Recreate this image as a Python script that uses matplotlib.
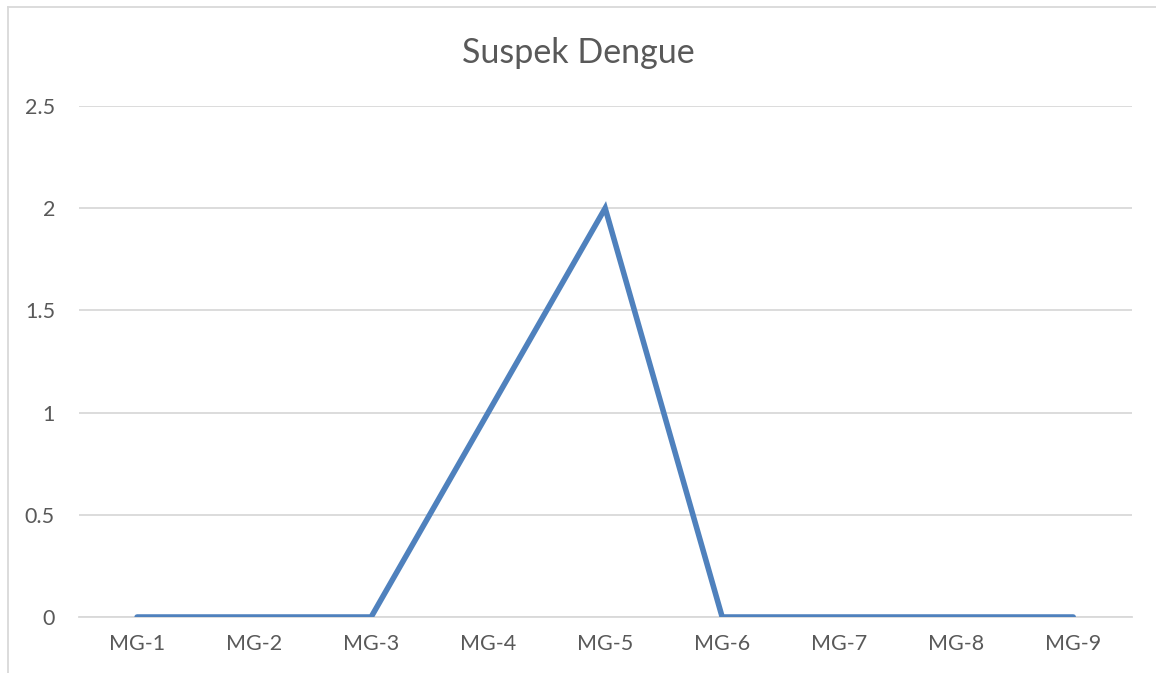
import matplotlib
matplotlib.use("Agg")
import matplotlib.pyplot as plt
from matplotlib.lines import Line2D

# données
categories = ["MG-1", "MG-2", "MG-3", "MG-4", "MG-5", "MG-6", "MG-7", "MG-8", "MG-9"]
valeurs = [0, 0, 0, 1, 2, 0, 0, 0, 0]
yticks = [0, 0.5, 1, 1.5, 2, 2.5]
ytick_labels = ["0", "0.5", "1", "1.5", "2", "2.5"]

plt.rcParams["font.family"] = ["Lato", "DejaVu Sans"]
gris_texte = "#595959"
gris_grille = "#D9D9D9"

fig = plt.figure(figsize=(11.56, 6.73), dpi=100)
ax = fig.add_axes([0.068, 0.0832, 0.911, 0.7593])

x = list(range(len(categories)))
ax.plot(x, valeurs, color="#4F81BD", linewidth=4.0, solid_capstyle="round",
        solid_joinstyle="miter", zorder=3)

ax.set_xlim(-0.5, len(categories) - 0.5)
ax.set_ylim(0, 2.5)
ax.set_yticks(yticks)
ax.set_yticklabels(ytick_labels)
ax.set_xticks(x)
ax.set_xticklabels(categories)
ax.tick_params(axis="both", length=0, colors=gris_texte, labelsize=15.5)
ax.tick_params(axis="x", pad=12)
ax.tick_params(axis="y", pad=17)

ax.grid(axis="y", color=gris_grille, linewidth=1.3)
ax.set_axisbelow(True)
for s in ["top", "right", "left"]:
    ax.spines[s].set_visible(False)
ax.spines["bottom"].set_color(gris_grille)
ax.spines["bottom"].set_linewidth(1.3)
ax.spines["bottom"].set_zorder(1)

fig.text(0.5, 0.921, "Suspek Dengue", ha="center", va="center",
         fontsize=24.5, color=gris_texte)

# cadre du graphique (gauche et haut)
fig.add_artist(Line2D([8 / 1156, 8 / 1156], [0, 1 - 7 / 673], color=gris_grille,
                      linewidth=1.3, transform=fig.transFigure))
fig.add_artist(Line2D([8 / 1156, 1], [1 - 7 / 673, 1 - 7 / 673], color=gris_grille,
                      linewidth=1.3, transform=fig.transFigure))

plt.savefig("out.png", dpi=100)
plt.close()
